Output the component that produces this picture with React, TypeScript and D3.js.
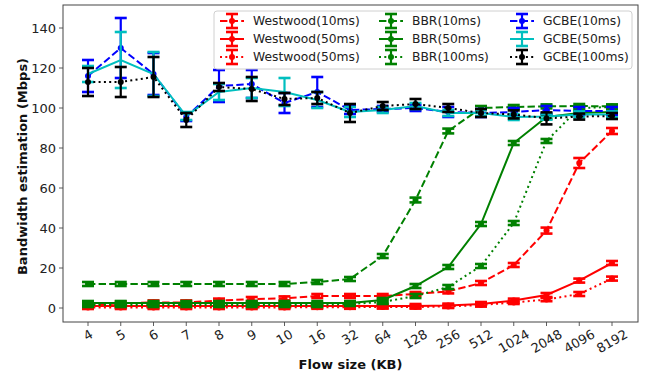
import React from "react";
import * as d3 from "d3";

const categories = ["4", "5", "6", "7", "8", "9", "10", "16", "32", "64", "128", "256", "512", "1024", "2048", "4096", "8192"];
const yTicks = [0, 20, 40, 60, 80, 100, 120, 140];

const westwood10 = [1.5, 2.3, 2.8, 2.8, 3.7, 4.5, 4.8, 6, 6, 6, 7, 8.3, 12.5, 21.5, 38.7, 72.5, 88.5];
const westwood10Err = [1, 1, 1, 1, 1, 1, 1, 1, 1, 1, 1, 1, 1, 1, 1.5, 2.5, 1.5];
const westwood50 = [1, 1, 1, 1, 1, 1, 1, 1, 1, 1, 1, 1.2, 2, 3.7, 6.5, 13.7, 22.5];
const westwood50Err = [1, 1, 1, 1, 1, 1, 1, 1, 1, 1, 1, 1, 1, 1, 1, 1, 1];
const westwood100 = [0.3, 0.3, 0.3, 0.3, 0.3, 0.3, 0.3, 0.4, 0.4, 0.5, 0.5, 0.8, 1.5, 2.8, 4.2, 7, 14.7];
const westwood100Err = [0.8, 0.8, 0.8, 0.8, 0.8, 0.8, 0.8, 0.8, 0.8, 0.8, 0.8, 0.8, 0.8, 0.8, 0.8, 1, 1];
const bbr10 = [12, 12, 12, 12, 12, 12, 12, 13, 14.5, 26, 54, 88.5, 100, 100.5, 100.8, 101, 100.8];
const bbr10Err = [1, 1, 1, 1, 1, 1, 1, 1, 1, 1, 1.2, 1.2, 1, 1, 1, 1, 1];
const bbr50 = [2.5, 2.5, 2.5, 2.5, 2.5, 2.5, 2.5, 2.5, 2.5, 4, 11, 20.5, 42, 82.5, 95.5, 97.5, 98];
const bbr50Err = [1, 1, 1, 1, 1, 1, 1, 1, 1, 1, 1, 1, 1, 1, 1, 1, 1];
const bbr100 = [1.5, 1.5, 1.5, 1.5, 1.5, 1.5, 1.5, 1.5, 2, 3, 6, 10.5, 21, 42.5, 83.5, 100, 100.5];
const bbr100Err = [1, 1, 1, 1, 1, 1, 1, 1, 1, 1, 1, 1, 1, 1, 1, 1, 1];
const gcbe10 = [116, 130, 117, 95.5, 111, 112, 102.5, 108, 99, 99.5, 100, 98, 97.5, 98, 99, 98.5, 98.5];
const gcbe10Err = [8, 15, 10.5, 2, 8, 7, 5, 7.5, 2, 1.5, 1.5, 2.5, 2, 2, 2, 2, 2];
const gcbe50 = [117, 124, 117, 96, 108, 110, 108, 104, 98, 99, 101, 97.5, 97.5, 95.5, 95.7, 96.8, 96.8];
const gcbe50Err = [4, 14, 11, 2, 4, 5, 7, 4, 2.5, 1.5, 1.5, 1.5, 1.5, 1.5, 1.5, 1.5, 1.5];
const gcbe100 = [113, 113, 115.5, 94, 110.5, 109.5, 104.5, 105, 97.5, 101, 102, 100, 97.5, 96.8, 94.8, 95.7, 96];
const gcbe100Err = [7, 7.5, 10, 3.5, 2, 6, 3, 3, 4.5, 2, 2.5, 2, 2, 2, 3, 1.5, 1.5];

type Series = { name: string; values: number[]; err: number[]; color: string; dash: string; marker: boolean };

const series: Series[] = [
  { name: "Westwood(10ms)", values: westwood10, err: westwood10Err, color: "#ff0000", dash: "7.4,3.2", marker: true },
  { name: "Westwood(50ms)", values: westwood50, err: westwood50Err, color: "#ff0000", dash: "", marker: true },
  { name: "Westwood(50ms)", values: westwood100, err: westwood100Err, color: "#ff0000", dash: "2,3.3", marker: true },
  { name: "BBR(10ms)", values: bbr10, err: bbr10Err, color: "#008000", dash: "7.4,3.2", marker: true },
  { name: "BBR(50ms)", values: bbr50, err: bbr50Err, color: "#008000", dash: "", marker: true },
  { name: "BBR(100ms)", values: bbr100, err: bbr100Err, color: "#008000", dash: "2,3.3", marker: true },
  { name: "GCBE(10ms)", values: gcbe10, err: gcbe10Err, color: "#0000ff", dash: "7.4,3.2", marker: true },
  { name: "GCBE(50ms)", values: gcbe50, err: gcbe50Err, color: "#00bfbf", dash: "", marker: false },
  { name: "GCBE(100ms)", values: gcbe100, err: gcbe100Err, color: "#000000", dash: "2,3.3", marker: true },
];

const W = 645;
const H = 376;
const left = 63, right = 638, top = 5, bottom = 322;
const FONT = "DejaVu Sans, sans-serif";

export default function App() {
  const x = d3.scaleLinear().domain([0, categories.length - 1]).range([88, 612]);
  const y = d3.scaleLinear().domain([0, 140]).range([308, 28]);
  const line = d3.line<number>().x((_, i) => x(i)).y((d) => y(d));
  const cap = 6;

  const legendCols = [220, 379, 510];
  const legendRows = [21, 39, 57];

  return (
    <svg width={W} height={H} style={{ position: "absolute", left: 0, top: 0, fontFamily: FONT }}>
      <rect x={0} y={0} width={W} height={H} fill="#fff" />
      {/* y ticks */}
      {yTicks.map((t) => (
        <g key={t}>
          <line x1={left - 4} x2={left} y1={y(t)} y2={y(t)} stroke="#333" strokeWidth={0.8} />
          <text x={left - 7} y={y(t)} textAnchor="end" dominantBaseline="central" fontSize={13} fill="#222">
            {t}
          </text>
        </g>
      ))}
      {/* x ticks */}
      {categories.map((c, i) => {
        const w = c.length * 0.636 * 13;
        const h = w * 0.5 + 10;
        const cy = bottom + 6 + h / 2;
        return (
          <g key={c}>
            <line x1={x(i)} x2={x(i)} y1={bottom} y2={bottom + 4} stroke="#333" strokeWidth={0.8} />
            <text
              transform={`translate(${x(i)},${cy}) rotate(-30)`}
              textAnchor="middle"
              dominantBaseline="central"
              fontSize={13}
              fill="#222"
            >
              {c}
            </text>
          </g>
        );
      })}
      {/* series */}
      {series.map((s, si) => (
        <g key={si}>
          <path d={line(s.values) || ""} fill="none" stroke={s.color} strokeWidth={2} strokeDasharray={s.dash || undefined} />
          {s.values.map((v, i) => (
            <g key={i} stroke={s.color} strokeWidth={2.2}>
              <line x1={x(i)} x2={x(i)} y1={y(v - s.err[i])} y2={y(v + s.err[i])} />
              <line x1={x(i) - cap} x2={x(i) + cap} y1={y(v - s.err[i])} y2={y(v - s.err[i])} strokeWidth={2.6} />
              <line x1={x(i) - cap} x2={x(i) + cap} y1={y(v + s.err[i])} y2={y(v + s.err[i])} strokeWidth={2.6} />
              {s.marker && <circle cx={x(i)} cy={y(v)} r={3} fill={s.color} stroke="none" />}
            </g>
          ))}
        </g>
      ))}
      {/* frame */}
      <rect x={left} y={top} width={right - left} height={bottom - top} fill="none" stroke="#444" strokeWidth={1} />
      {/* legend */}
      <rect x={214} y={11} width={418} height={58} rx={3} fill="#fff" fillOpacity={0.8} stroke="#d0d0d0" strokeWidth={1} />
      {series.map((s, si) => {
        const col = Math.floor(si / 3);
        const row = si % 3;
        const lx = legendCols[col];
        const ly = legendRows[row];
        const cx = lx + 12;
        return (
          <g key={"lg" + si}>
            <line x1={lx} x2={lx + 24} y1={ly} y2={ly} stroke={s.color} strokeWidth={2} strokeDasharray={s.dash || undefined} />
            <line x1={cx} x2={cx} y1={ly - 7} y2={ly + 7} stroke={s.color} strokeWidth={2.2} />
            <line x1={cx - 6} x2={cx + 6} y1={ly - 7} y2={ly - 7} stroke={s.color} strokeWidth={2.6} />
            <line x1={cx - 6} x2={cx + 6} y1={ly + 7} y2={ly + 7} stroke={s.color} strokeWidth={2.6} />
            {s.marker && <circle cx={cx} cy={ly} r={3} fill={s.color} />}
            <text x={lx + 33} y={ly} dominantBaseline="central" fontSize={12.3} fill="#222">
              {s.name}
            </text>
          </g>
        );
      })}
      {/* axis labels */}
      <text x={(left + right) / 2} y={364} textAnchor="middle" dominantBaseline="central" fontSize={13} fontWeight="bold" fill="#111">
        Flow size (KB)
      </text>
      <text
        transform={`translate(22,${(top + bottom) / 2 + 3}) rotate(-90)`}
        textAnchor="middle"
        dominantBaseline="central"
        fontSize={13}
        fontWeight="bold"
        fill="#111"
      >
        Bandwidth estimation (Mbps)
      </text>
    </svg>
  );
}
